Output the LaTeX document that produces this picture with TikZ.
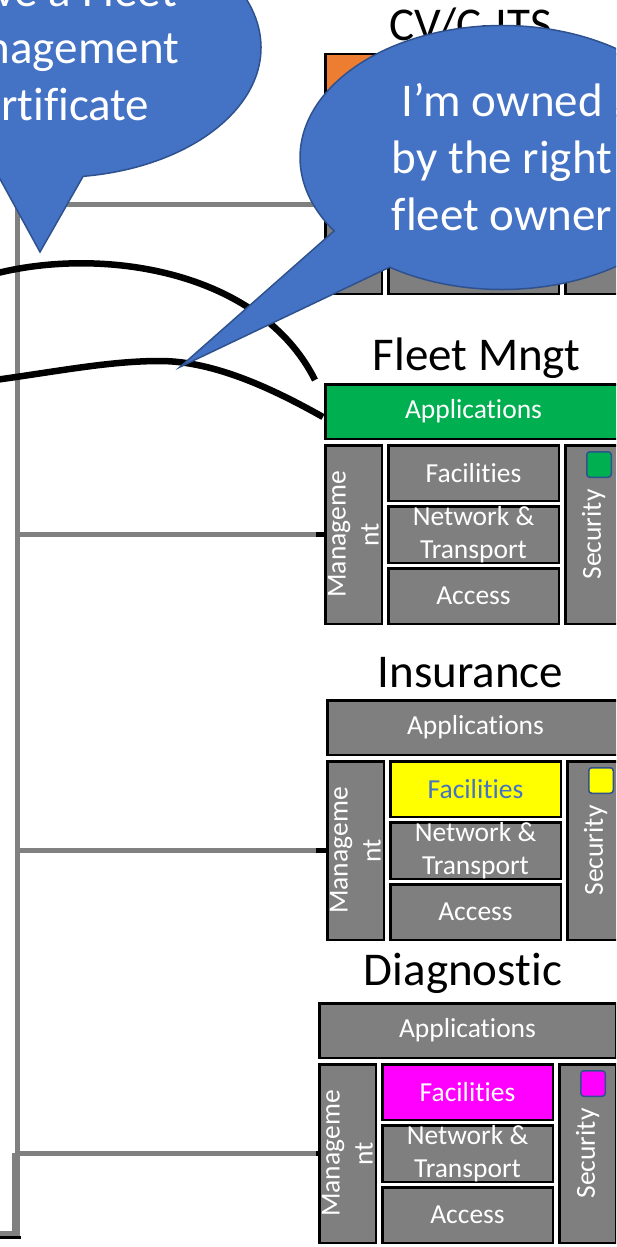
\documentclass[tikz,border=0pt]{standalone}
\usepackage{fontspec}
\setmainfont{Carlito}[Ligatures=NoCommon]

\definecolor{boxgray}{RGB}{127,127,127}
\definecolor{linkgray}{RGB}{128,128,128}
\definecolor{appgreen}{RGB}{0,176,80}
\definecolor{apporange}{RGB}{237,125,49}
\definecolor{facyellow}{RGB}{255,255,0}
\definecolor{facmagenta}{RGB}{255,0,255}
\definecolor{facblue}{RGB}{68,114,196}
\definecolor{calloutblue}{RGB}{68,114,196}
\definecolor{calloutedge}{RGB}{47,82,143}

\tikzset{
  osibox/.style={draw=black, line width=2.5pt, fill=boxgray, inner sep=0pt, outer sep=0pt},
  osilabel/.style={text=white, inner sep=0pt, align=center, font=\fontsize{27.5}{33}\selectfont},
  stacktitle/.style={anchor=base, inner sep=0pt, font=\fontsize{47}{56}\selectfont},
  keybadge/.style={draw=calloutedge, line width=1.5pt, rounded corners=3pt, inner sep=0pt},
  trunkline/.style={draw=linkgray, line width=5.5pt},
  trunkend/.style={draw=black, line width=5.5pt},
  linkcurve/.style={draw=black, line width=6.5pt},
  speech/.style={fill=calloutblue, draw=calloutedge, line width=1.5pt},
  speechtext/.style={text=white, align=center, inner sep=0pt, font=\fontsize{47}{57}\selectfont},
}

% one layer box given by its outer corners (x1,y1) (x2,y2), y counted downwards
\newcommand\layerbox[6]{%
  \node[osibox, #6, minimum width={(#4-(#2)-2.5)*1pt}, minimum height={(#5-(#3)-2.5)*1pt}]
    (#1) at ({(#2+#4)/2},{-(#3+#5)/2}) {};}

% a protocol stack: prefix, left x, top y, applications fill, facilities fill
\newcommand\layerstack[5]{%
  \layerbox{#1-app}{#2}{#3}{#2+299}{#3+57}{fill=#4}
  \layerbox{#1-mgmt}{#2}{#3+61}{#2+59}{#3+242}{}
  \layerbox{#1-fac}{#2+63}{#3+61}{#2+236}{#3+119}{fill=#5}
  \layerbox{#1-net}{#2+63}{#3+122}{#2+236}{#3+181}{}
  \layerbox{#1-acc}{#2+63}{#3+184}{#2+236}{#3+242}{}
  \layerbox{#1-sec}{#2+240}{#3+61}{#2+299}{#3+242}{}}

% layer names of a stack: prefix, facilities text colour
\newcommand\layerlabels[2]{%
  \node[osilabel] (#1-app-t) at (#1-app.center) {Applications};
  \node[osilabel, rotate=90] (#1-mgmt-t) at (#1-mgmt.center) {Manageme\\nt};
  \node[osilabel, text=#2] (#1-fac-t) at (#1-fac.center) {Facilities};
  \node[osilabel] (#1-net-t) at (#1-net.center) {Network \&\\Transport};
  \node[osilabel] (#1-acc-t) at (#1-acc.center) {Access};
  \node[osilabel, rotate=90] (#1-sec-t) at (#1-sec.center) {Security};}

% coloured key in the security column: prefix, left x, top y, fill
\newcommand\stackbadge[4]{%
  \node[keybadge, fill=#4, minimum width=24.5pt, minimum height=25.5pt]
    (#1-badge) at ({#2+275},{-(#3+81.5)}) {};}

\begin{document}
\begin{tikzpicture}[x=1pt,y=1pt]
\useasboundingbox (0,0) rectangle (616,-1247);
\clip (0,0) rectangle (616,-1247);

% stack titles
\node[stacktitle] (cv-title) at (470.5,-41) {CV/C-ITS};
\node[stacktitle] (fleet-title) at (476.5,-370) {Fleet Mngt};
\node[stacktitle] (ins-title) at (470.5,-687) {Insurance};
\node[stacktitle] (diag-title) at (463,-985) {Diagnostic};

% stacks
\layerstack{cv}{324}{53}{apporange}{boxgray}
\layerstack{fleet}{324}{383}{appgreen}{boxgray}
\layerstack{ins}{326}{699}{boxgray}{facyellow}
\layerstack{diag}{318}{1002}{boxgray}{facmagenta}

\layerlabels{fleet}{white}
\layerlabels{ins}{facblue}
\layerlabels{diag}{white}

\stackbadge{fleet}{324}{383}{appgreen}
\stackbadge{ins}{326}{699}{facyellow}
\stackbadge{diag}{318}{1002}{facmagenta}

% management bus
\coordinate (trunk) at (17.5,0);
\coordinate (tap) at (316,0);
\coordinate (trunk-top) at (17.5,-201);
\coordinate (trunk-bottom) at (17.5,-1236);
\draw[trunkline] (trunk-top) -- (trunk-bottom);
\foreach \s in {cv,fleet,ins,diag}{
  \draw[trunkline] (trunk |- \s-mgmt.west) -- (tap |- \s-mgmt.west);
  \draw[trunkend] (tap |- \s-mgmt.west) -- (\s-mgmt.west);
}
\coordinate (spur-top) at (14.5,-1153);
\coordinate (spur-corner) at (14.5,-1234);
\coordinate (spur-end) at (-5,-1234);
\draw[trunkline] (spur-top) -- (spur-corner) -- (spur-end);
\coordinate (foot-a) at (-5,-1237.5);
\coordinate (foot-b) at (21,-1237.5);
\draw[black, line width=3pt] (foot-a) -- (foot-b);

% radio links
\coordinate (link1-start) at (-10,-275);
\coordinate (link1-end) at (315,-380);
\draw[linkcurve] (link1-start) .. controls (100,-245) and (260,-270) .. (link1-end);
\coordinate (link2-start) at (-5,-380);
\coordinate (link2-mid) at (160,-361);
\coordinate (link2-end) at (323,-417);
\draw[linkcurve] (link2-start) .. controls (60,-371) and (110,-361) .. (link2-mid)
  .. controls (215,-361) and (275,-390) .. (link2-end);

% callout: fleet management certificate
\coordinate (cert-c) at (56,-47.5);
\coordinate (cert-tip) at (40,-252);
\path[speech] ([shift={(277.6:205pt and 130pt)}]cert-c)
  arc[start angle=277.6, end angle=613, x radius=205pt, y radius=130pt]
  -- (cert-tip) -- cycle;
\node[speechtext] (cert) at (51,-47.5) {I have a Fleet\\Management\\Certificate};

% callout: fleet owner
\coordinate (owner-c) at (502,-157.5);
\coordinate (owner-tip) at (180,-367);
\path[speech] ([shift={(236.2:202pt and 132pt)}]owner-c)
  arc[start angle=236.2, end angle=573.8, x radius=202pt, y radius=132pt]
  -- (owner-tip) -- cycle;
\node[speechtext] (owner) at (owner-c) {I’m owned\\by the right\\fleet owner};
\end{tikzpicture}
\end{document}
